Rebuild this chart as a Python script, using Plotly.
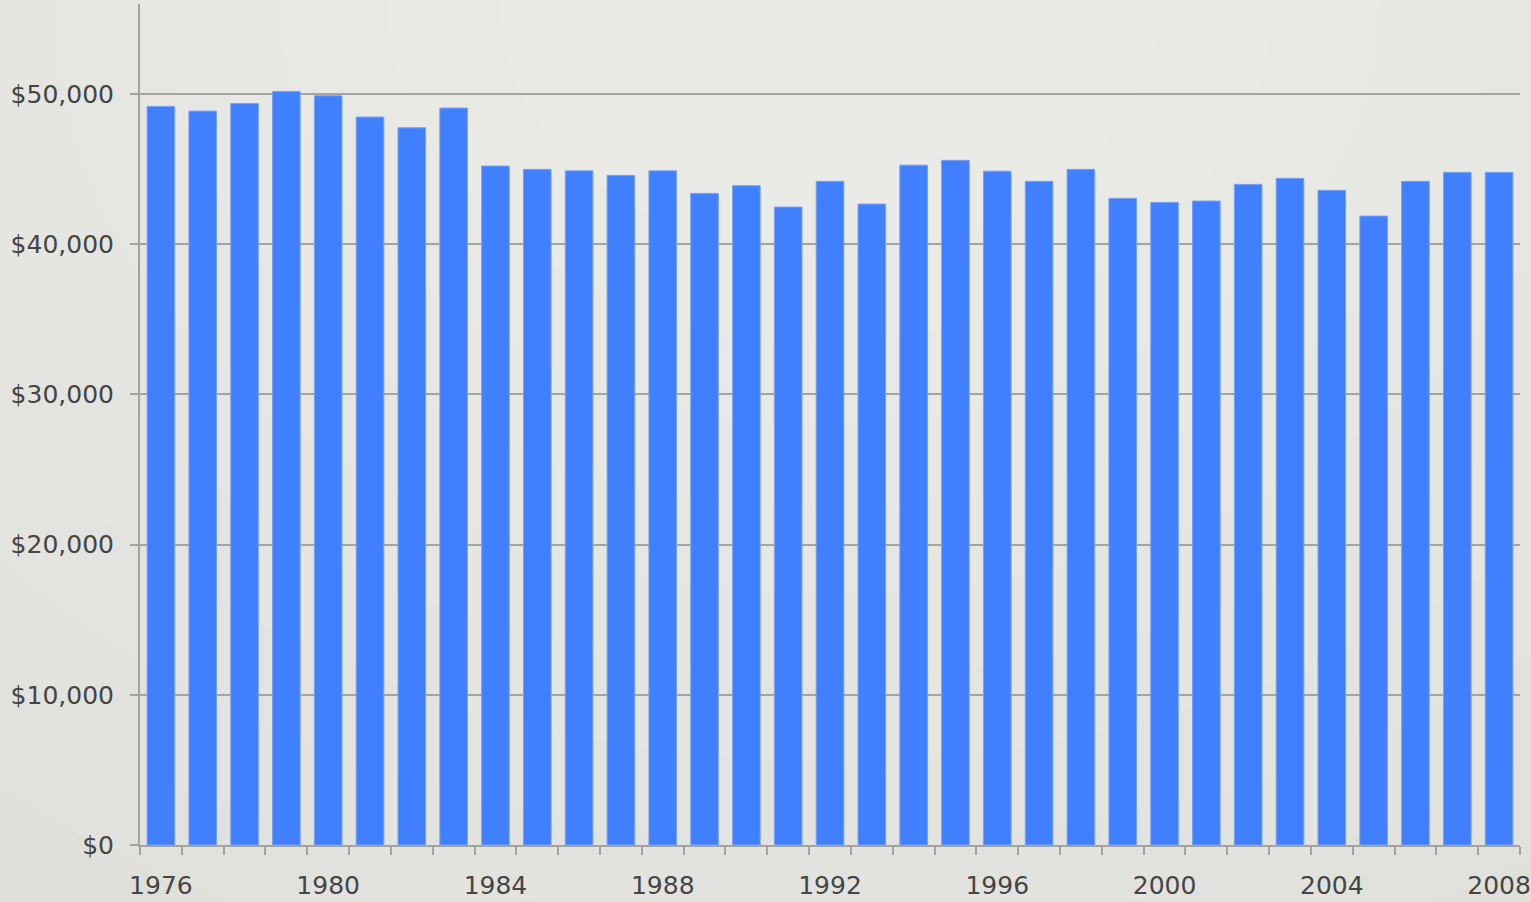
import plotly.graph_objects as go

years = list(range(1976, 2009))
values = [49180, 48870, 49380, 50180, 49890, 48470, 47760, 49070,
          45210, 44990, 44890, 44590, 44890, 43390, 43900, 42480,
          44190, 42680, 45270, 45590, 44870, 44190, 44990, 43060,
          42790, 42880, 43990, 44390, 43590, 41880, 44190, 44790, 44790]
x_tick_vals = [1976, 1980, 1984, 1988, 1992, 1996, 2000, 2004, 2008]
y_tick_vals = [0, 10000, 20000, 30000, 40000, 50000]
y_tick_text = ["$0", "$10,000", "$20,000", "$30,000", "$40,000", "$50,000"]

AXIS = "#a3a3a0"
TEXT = "#454545"

fig = go.Figure()
fig.add_trace(go.Bar(
    x=years, y=values,
    marker=dict(color="#4080ff", line=dict(color="#78a2f2", width=1)),
    hoverinfo="x+y",
))

# soft radial background (lighter toward top centre)
shapes = []
n = 14
for i in range(n):
    r = 1.6 - i * 0.1
    shapes.append(dict(
        type="circle", xref="paper", yref="paper", layer="below",
        x0=0.5 - r * 0.8, x1=0.5 + r * 0.8, y0=1.0 - r, y1=1.0 + r,
        fillcolor="rgba(255,255,252,0.06)", line=dict(width=0),
    ))

fig.update_layout(
    width=1531, height=902,
    margin=dict(l=140, r=11, t=4, b=57, autoexpand=False),
    paper_bgcolor="#d9d9d3",
    plot_bgcolor="rgba(0,0,0,0)",
    bargap=0.34,
    showlegend=False,
    shapes=shapes,
    font=dict(family="DejaVu Sans", color=TEXT, size=26),
    xaxis=dict(
        range=[1975.5, 2008.5],
        tickmode="array", tickvals=x_tick_vals,
        ticks="", showgrid=False, automargin=False,
        ticklabeloverflow="allow",
        showline=True, linecolor=AXIS, linewidth=2,
        ticklabelstandoff=17,
        tickfont=dict(size=25, color=TEXT),
        minor=dict(tick0=1975.5, dtick=1, ticks="outside", ticklen=8,
                   tickcolor=AXIS, tickwidth=2, showgrid=False),
        fixedrange=True,
    ),
    yaxis=dict(
        range=[0, 56000],
        tickmode="array", tickvals=y_tick_vals, ticktext=y_tick_text,
        ticks="outside", ticklen=8, tickcolor=AXIS, tickwidth=2,
        showgrid=True, gridcolor=AXIS, gridwidth=2,
        zeroline=False, automargin=False,
        showline=True, linecolor=AXIS, linewidth=2,
        ticklabelstandoff=11,
        tickfont=dict(size=25, color=TEXT),
        fixedrange=True,
    ),
)

fig.write_html("out.html", config={"displayModeBar": False},
               post_script="document.body.style.margin='0';")
